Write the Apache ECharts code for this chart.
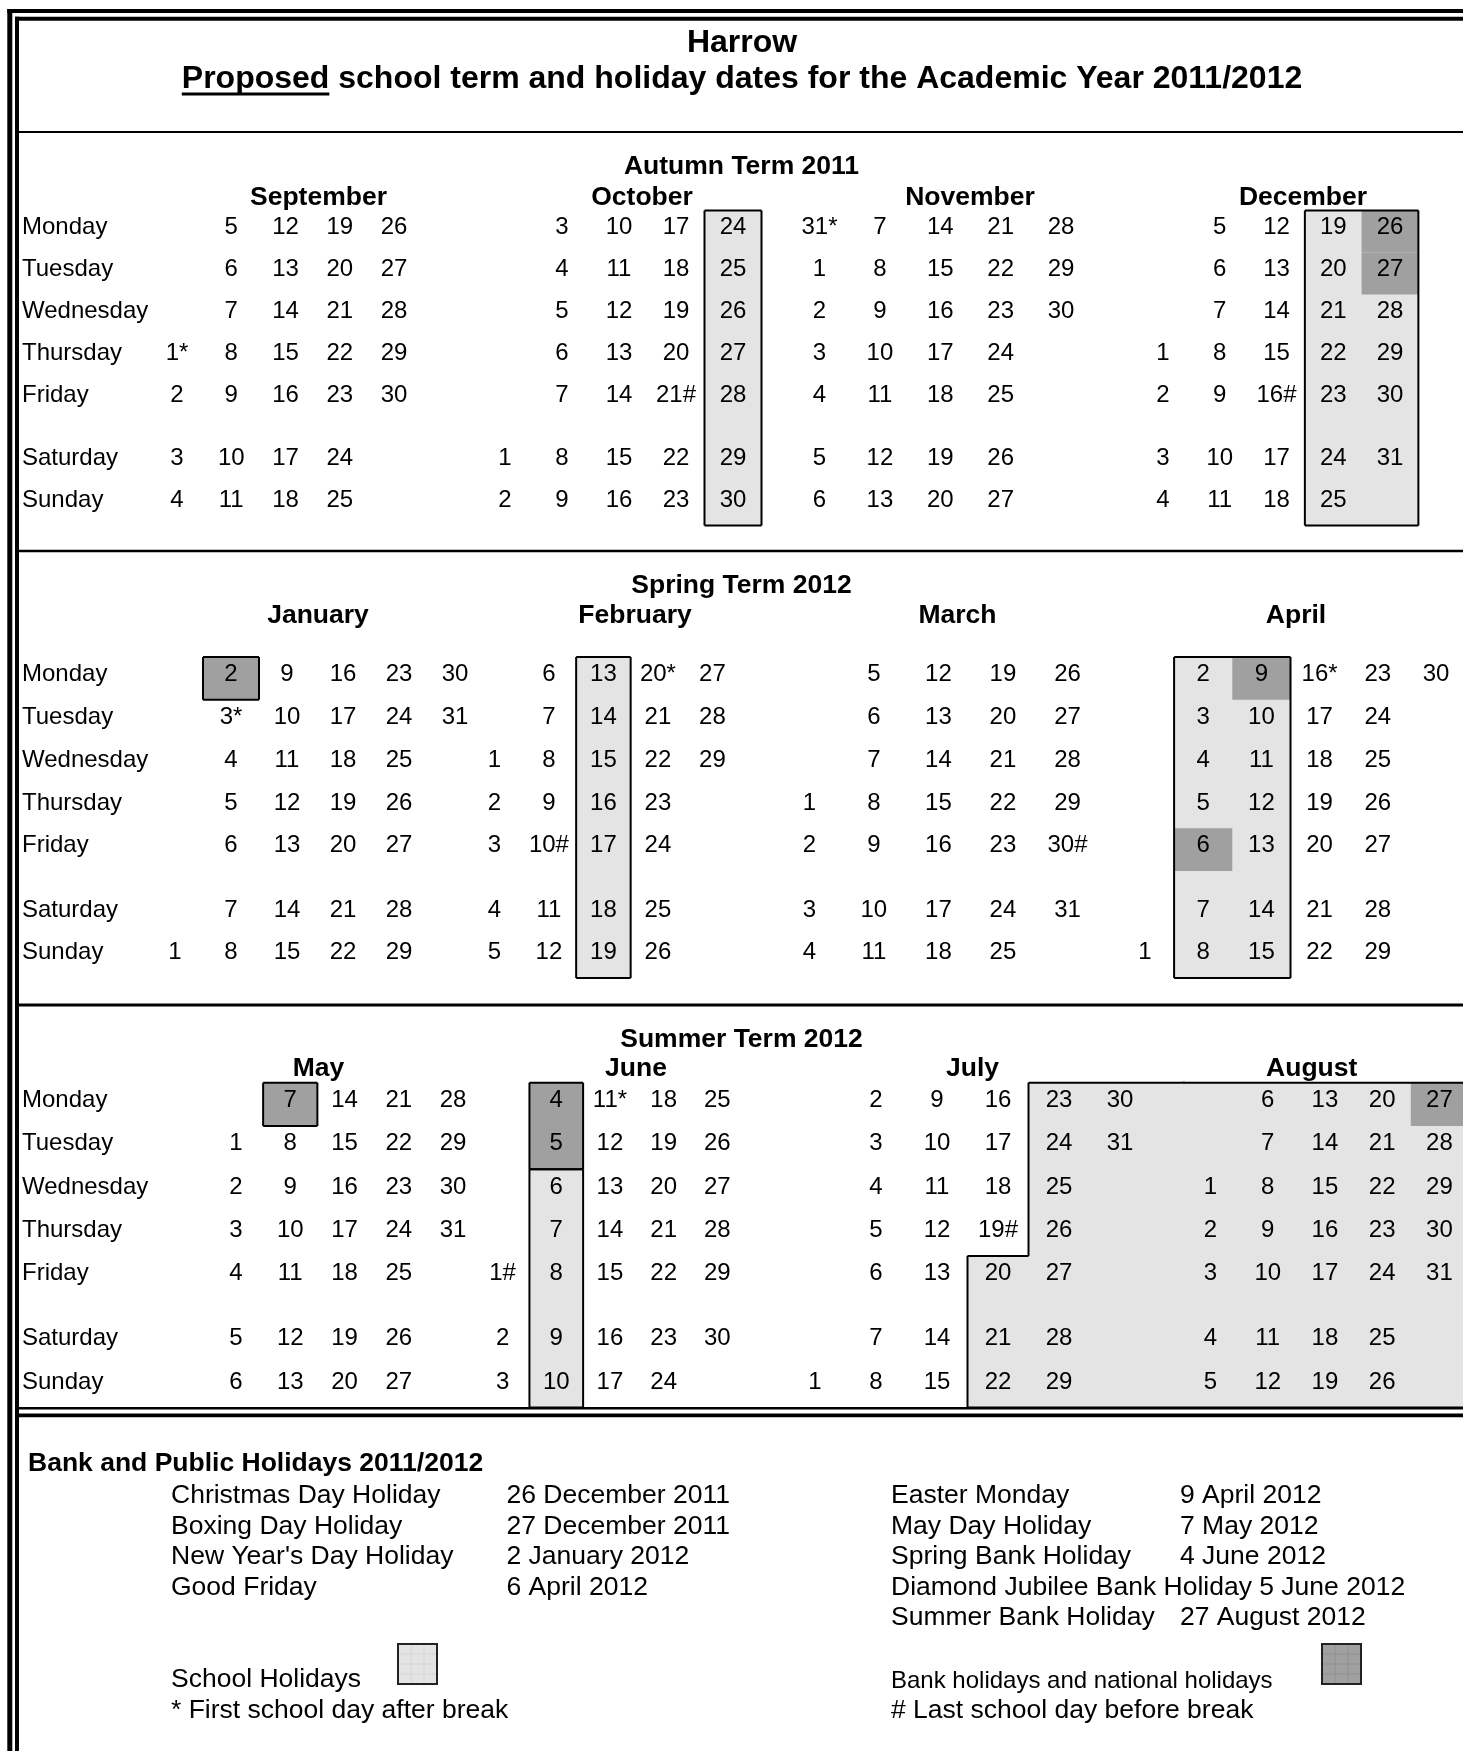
<!DOCTYPE html>
<html>
<head>
<meta charset="utf-8">
<title>Harrow term dates 2011/2012</title>
<script src="https://cdn.jsdelivr.net/npm/echarts@6.0.0/dist/echarts.min.js"></script>
<style>
html,body{margin:0;padding:0;background:#ffffff;}
#chart{width:1463px;height:1751px;}
</style>
</head>
<body>
<div id="chart"></div>
<script>
// ================= DATA =================
const titleTop = 'Harrow';
const titleUnderlined = 'Proposed';
const titleRest = ' school term and holiday dates for the Academic Year 2011/2012';
const termTitles = ['Autumn Term 2011', 'Spring Term 2012', 'Summer Term 2012'];
const monthNames = [
  ['September', 'October', 'November', 'December'],
  ['January', 'February', 'March', 'April'],
  ['May', 'June', 'July', 'August']
];
const monthKeys = [
  ['2011-09', '2011-10', '2011-11', '2011-12'],
  ['2012-01', '2012-02', '2012-03', '2012-04'],
  ['2012-05', '2012-06', '2012-07', '2012-08']
];
const dayNames = ['Monday', 'Tuesday', 'Wednesday', 'Thursday', 'Friday', 'Saturday', 'Sunday'];
// days printed in another month's first column: [date, month it is printed in]
const movedDays = [['2011-10-31', '2011-11']];
const schoolHolidays = [
  ['2011-10-24', '2011-10-30'],
  ['2011-12-19', '2011-12-31'],
  ['2012-02-13', '2012-02-19'],
  ['2012-04-02', '2012-04-15'],
  ['2012-06-06', '2012-06-10'],
  ['2012-07-20', '2012-08-31']
];
const bankHolidays = ['2011-12-26', '2011-12-27', '2012-01-02', '2012-04-06', '2012-04-09',
  '2012-05-07', '2012-06-04', '2012-06-05', '2012-08-27'];
const firstDayAfterBreak = ['2011-09-01', '2011-10-31', '2012-01-03', '2012-02-20', '2012-04-16', '2012-06-11'];
const lastDayBeforeBreak = ['2011-10-21', '2011-12-16', '2012-02-10', '2012-03-30', '2012-06-01', '2012-07-19'];
const holidayListTitle = 'Bank and Public Holidays 2011/2012';
const holidayListLeft = [
  ['Christmas Day Holiday', '26 December 2011'],
  ['Boxing Day Holiday', '27 December 2011'],
  ["New Year's Day Holiday", '2 January 2012'],
  ['Good Friday', '6 April 2012']
];
const holidayListRight = [
  ['Easter Monday', '9 April 2012'],
  ['May Day Holiday', '7 May 2012'],
  ['Spring Bank Holiday', '4 June 2012'],
  ['Diamond Jubilee Bank Holiday 5 June 2012', ''],
  ['Summer Bank Holiday', '27 August 2012']
];
const legendSchool = 'School Holidays';
const legendBank = 'Bank holidays and national holidays';
const noteFirst = '* First school day after break';
const noteLast = '# Last school day before break';

// ================= LAYOUT / STYLE =================
const W = 1463;
const FONT = '"Liberation Sans", Arial, Helvetica, sans-serif';
const LIGHT = '#e4e4e4', DARK = '#a0a0a0';
const TEXT_DY = -3.8;
const termLayout = [{ top: 210.5, H: 42.0 }, { top: 657, H: 42.8 }, { top: 1082.7, H: 43.3 }];
// first and last column centre (px) of every month block
const colLayout = [
  [[177, 394], [505, 733], [819.5, 1061], [1163, 1390]],
  [[175, 455], [494.4, 712.4], [809.3, 1067.5], [1145, 1436]],
  [[236, 453], [502.6, 717.3], [815, 1120], [1210.5, 1439.4]]
];
const monthTitleX = [[318.5, 642, 970, 1303], [318, 635, 957.5, 1296], [318.5, 636, 972.6, 1311.7]];
const monthTitleY = [197.5, 615.5, 1069];
const termTitleY = [166.5, 585.5, 1039.5];
const listY = [1495.5, 1526.5, 1557, 1587.5, 1617.5];

// ================= HELPERS =================
const DAY = 86400000;
function parse(s) { const [y, m, d] = s.split('-').map(Number); return Date.UTC(y, m - 1, d); }
function wd(t) { return (new Date(t).getUTCDay() + 6) % 7; }
function rowCenter(w) { return w < 5 ? 2 * w + 1 : 2 * w + 2; }
function rowTop(w) { return w < 5 ? 2 * w : 2 * w + 1; }
function fillTop(w) { return w < 5 ? 2 * w : (w === 5 ? 10 : 13); }
const movedMap = new Map(movedDays);
const fdSet = new Set(firstDayAfterBreak), ldSet = new Set(lastDayBeforeBreak), bhSet = new Set(bankHolidays);
function txt(size, weight, align) {
  return { fill: '#000', font: weight + ' ' + size + 'px ' + FONT, align: align, verticalAlign: 'middle',
    textAlign: align, textVerticalAlign: 'middle' };
}

function monthCells(key) {
  const [y, m] = key.split('-').map(Number);
  const n = new Date(Date.UTC(y, m, 0)).getUTCDate();
  const dates = [];
  for (let d = 1; d <= n; d++) {
    const s = key + '-' + String(d).padStart(2, '0');
    if (!movedMap.has(s)) dates.push(s);
  }
  movedDays.forEach(([d, to]) => { if (to === key) dates.push(d); });
  dates.sort();
  const t0 = parse(dates[0]);
  const w0 = t0 - wd(t0) * DAY;
  return dates.map(s => {
    const t = parse(s);
    return {
      date: s, t: t, wd: wd(t),
      col: Math.floor(Math.round((t - w0) / DAY) / 7),
      label: String(new Date(t).getUTCDate()) + (fdSet.has(s) ? '*' : '') + (ldSet.has(s) ? '#' : '')
    };
  });
}

function inSchool(t) { return schoolHolidays.some(([a, b]) => t >= parse(a) && t <= parse(b)); }

function monthShapes(cells, xMin, xMax) {
  const fills = [], banks = [], outlines = [];
  const first = cells[0].t, last = cells[cells.length - 1].t;
  schoolHolidays.forEach(([a, b]) => {
    const ta = parse(a), tb = parse(b);
    const inR = cells.filter(c => c.t >= ta && c.t <= tb);
    if (!inR.length) return;
    const before = ta < first, after = tb > last;
    const c0 = inR[0], c1 = inR[inR.length - 1];
    const xL = before ? xMin : c0.col - 0.5;
    const xR = after ? xMax + 0.05 : c1.col + 0.5;
    const y0 = fillTop(c0.wd);
    let pts;
    if (before || c0.wd === 0) pts = [[xL, 0], [xR, 0], [xR, 15], [xL, 15]];
    else if (c0.col === c1.col && !after) pts = [[xL, y0], [xR, y0], [xR, 15], [xL, 15]];
    else pts = [[xL, 15], [xL, y0], [c0.col + 0.5, y0], [c0.col + 0.5, 0], [xR, 0], [xR, 15]];
    fills.push({ kind: 'school', pts });
    outlines.push({ kind: 'outline', pts, skipL: before ? xL : null, skipR: after ? xR : null });
  });
  const bh = cells.filter(c => bhSet.has(c.date));
  bh.forEach(c => {
    const y0 = rowTop(c.wd);
    banks.push({ kind: 'bank', pts: [[c.col - 0.5, y0], [c.col + 0.5, y0], [c.col + 0.5, y0 + 2], [c.col - 0.5, y0 + 2]] });
  });
  const groups = [];
  bh.filter(c => !inSchool(c.t)).forEach(c => {
    const g = groups.find(g => g.col === c.col && g.last.t + DAY === c.t);
    if (g) g.last = c; else groups.push({ col: c.col, first: c, last: c });
  });
  groups.forEach(g => {
    const y0 = rowTop(g.first.wd), y1 = rowTop(g.last.wd) + 2;
    outlines.push({ kind: 'outline', pts: [[g.col - 0.5, y0], [g.col + 0.5, y0], [g.col + 0.5, y1], [g.col - 0.5, y1]], skipL: null, skipR: null });
  });
  return fills.concat(banks, outlines);
}

// ================= BUILD =================
const grids = [], xAxes = [], yAxes = [], series = [];
function addGrid(left, top, width, height, xmin, xmax) {
  const gi = grids.length;
  grids.push({ left: left, top: top, width: width, height: height, containLabel: false, outerBoundsMode: 'none' });
  xAxes.push({ gridIndex: gi, type: 'value', min: xmin, max: xmax, show: false });
  yAxes.push({ gridIndex: gi, type: 'value', min: 0, max: 15, inverse: true, show: false });
  return gi;
}

termTitles.forEach((tt, t) => {
  const L = termLayout[t];
  const gh = 7.5 * L.H;
  // weekday names
  const gd = addGrid(22, L.top, 120, gh, 0, 1);
  series.push({
    type: 'custom', xAxisIndex: gd, yAxisIndex: gd, silent: true, z: 4,
    data: dayNames.map((d, i) => [0, rowCenter(i)]),
    renderItem: (p, api) => {
      const pt = api.coord([api.value(0), api.value(1)]);
      return { type: 'text', style: Object.assign({ text: dayNames[p.dataIndex], x: pt[0], y: pt[1] + TEXT_DY }, txt(24, 'normal', 'left')) };
    }
  });
  const monthsCells = monthKeys[t].map(monthCells);
  const geo = monthsCells.map((cells, m) => {
    const n = Math.max(...cells.map(c => c.col)) + 1;
    const [f, l] = colLayout[t][m];
    const s = (l - f) / (n - 1);
    return { n: n, s: s, left: f - s / 2 };
  });
  geo.forEach((g, m) => {
    const right = m < 3 ? geo[m + 1].left : W - 1;
    g.width = right - g.left;
    g.xMax = g.width / g.s - 0.5;
  });
  monthsCells.forEach((cells, m) => {
    const g = geo[m];
    const gi = addGrid(g.left, L.top, g.width, gh, -0.5, g.xMax);
    const shapes = monthShapes(cells, -0.5, g.xMax);
    series.push({
      type: 'custom', xAxisIndex: gi, yAxisIndex: gi, silent: true, z: 2, clip: false,
      data: shapes.map(s => s.pts[0]),
      renderItem: (p, api) => {
        const sh = shapes[p.dataIndex];
        const P = sh.pts.map(q => api.coord(q));
        if (sh.kind === 'school') return { type: 'polygon', shape: { points: P }, style: { fill: LIGHT } };
        if (sh.kind === 'bank') return { type: 'polygon', shape: { points: P }, style: { fill: DARK } };
        const children = [];
        for (let i = 0; i < sh.pts.length; i++) {
          const a = sh.pts[i], b = sh.pts[(i + 1) % sh.pts.length];
          if (a[0] === b[0] && (a[0] === sh.skipL || a[0] === sh.skipR)) continue;
          const A = P[i], B = P[(i + 1) % P.length];
          children.push({ type: 'line', shape: { x1: A[0], y1: A[1], x2: B[0], y2: B[1] }, style: { stroke: '#000', lineWidth: 2 } });
        }
        return { type: 'group', children: children };
      }
    });
    series.push({
      type: 'custom', xAxisIndex: gi, yAxisIndex: gi, silent: true, z: 4, clip: false,
      data: cells.map(c => [c.col, rowCenter(c.wd)]),
      renderItem: (p, api) => {
        const pt = api.coord([api.value(0), api.value(1)]);
        return { type: 'text', style: Object.assign({ text: cells[p.dataIndex].label, x: pt[0], y: pt[1] + TEXT_DY }, txt(24, 'normal', 'center')) };
      }
    });
  });
});

// ================= GRAPHIC (frame, titles, legend) =================
const G = [];
function line(x1, y1, x2, y2, w, color) { G.push({ type: 'line', z: 100, silent: true, shape: { x1, y1, x2, y2 }, style: { stroke: color || '#000', lineWidth: w } }); }
function text(s, x, y, size, weight, align) { if (s) G.push({ type: 'text', z: 100, silent: true, style: Object.assign({ text: s, x: x, y: y }, txt(size, weight, align)) }); }
function swatch(x, y, fill, grid) {
  G.push({ type: 'rect', z: 100, silent: true, shape: { x: x, y: y, width: 39, height: 40 }, style: { fill: fill, stroke: '#222', lineWidth: 2 } });
  [13, 26].forEach(d => line(x + d, y + 1, x + d, y + 39, 0.6, grid));
  [10, 20, 30].forEach(d => line(x + 1, y + d, x + 38, y + d, 0.6, grid));
}

// frame
line(9.8, 9, 9.8, 1751, 5);
line(7.3, 11, W, 11, 4);
line(17, 16.7, 17, 1751, 4);
line(15, 18.7, W, 18.7, 4);
// section separators
line(17, 132, W, 132, 2);
line(17, 551, W, 551, 2.5);
line(17, 1005, W, 1005, 3);
line(17, 1408.2, W, 1408.2, 2.6);
line(17, 1415.4, W, 1415.4, 3.8);

// titles
const mctx = document.createElement('canvas').getContext('2d');
mctx.font = 'bold 32px ' + FONT;
const wP = mctx.measureText(titleUnderlined).width;
const wAll = mctx.measureText(titleUnderlined + titleRest).width;
const tx0 = 742 - wAll / 2;
text(titleTop, 742, 43, 32, 'bold', 'center');
text(titleUnderlined, tx0, 79, 32, 'bold', 'left');
text(titleRest, tx0 + wP, 79, 32, 'bold', 'left');
line(tx0, 94, tx0 + wP, 94, 3);

termTitles.forEach((tt, t) => {
  text(tt, 741.5, termTitleY[t], 26.5, 'bold', 'center');
  monthNames[t].forEach((mn, m) => text(mn, monthTitleX[t][m], monthTitleY[t], 26.5, 'bold', 'center'));
});

// legend
text(holidayListTitle, 28, 1464, 26.5, 'bold', 'left');
holidayListLeft.forEach(([n, d], i) => { text(n, 171, listY[i], 26.5, 'normal', 'left'); text(d, 506.5, listY[i], 26.5, 'normal', 'left'); });
holidayListRight.forEach(([n, d], i) => { text(n, 891, listY[i], 26.5, 'normal', 'left'); text(d, 1180, listY[i], 26.5, 'normal', 'left'); });
text(legendSchool, 171, 1679.5, 26.5, 'normal', 'left');
text(noteFirst, 171, 1711, 26.5, 'normal', 'left');
text(legendBank, 891, 1681, 24, 'normal', 'left');
text(noteLast, 891, 1711, 26.5, 'normal', 'left');
swatch(398, 1644, LIGHT, '#cccccc');
swatch(1322, 1644, DARK, '#888888');

const chart = echarts.init(document.getElementById('chart'), null, { renderer: 'canvas', width: 1463, height: 1751 });
chart.setOption({
  backgroundColor: '#ffffff',
  animation: false,
  grid: grids,
  xAxis: xAxes,
  yAxis: yAxes,
  series: series,
  graphic: { elements: G }
});
</script>
</body>
</html>
